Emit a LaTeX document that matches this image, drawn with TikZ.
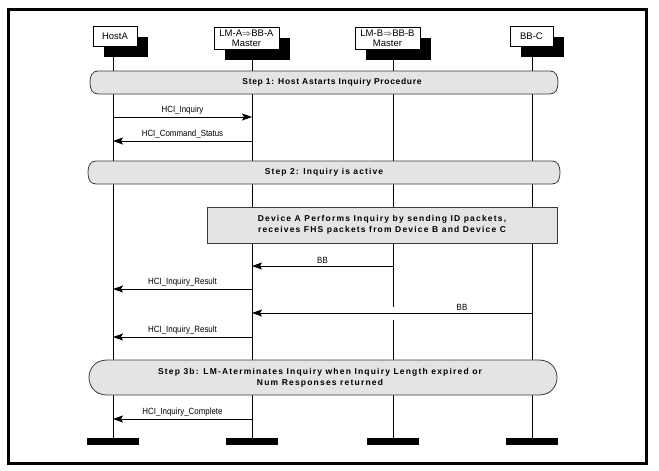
\documentclass[tikz,border=0pt]{standalone}
\usepackage{fontspec}
\setmainfont{Liberation Sans}
\newfontfamily\lblfont[FakeStretch=0.88]{Liberation Sans}
\usetikzlibrary{arrows.meta,shadows}
\definecolor{bannerfill}{HTML}{E4E4E4}
\definecolor{bannerline}{HTML}{3A3A3A}
\begin{document}
\begin{tikzpicture}[x=1pt,y=-1pt,
  head/.style={draw=black, line width=0.7pt, fill=white, align=center, inner sep=1pt,
    font=\fontsize{9.5}{10}\selectfont,
    drop shadow={shadow xshift=11pt, shadow yshift=-11pt, opacity=1, fill=black}},
  endbar/.style={fill=black, draw=none, inner sep=0pt, minimum width=52pt, minimum height=7pt},
  life/.style={line width=0.8pt},
  bannerbox/.style={draw=bannerline, fill=bannerfill, line width=0.8pt},
  bannertext/.style={align=center, inner sep=0pt,
    font=\bfseries\fontsize{8.5}{11}\selectfont\addfontfeatures{LetterSpace=#1}},
  msg/.style={line width=0.8pt, -{Stealth[length=10pt, width=7pt, inset=2pt]}},
  lbl/.style={above=2pt, inner sep=0pt, font=\lblfont\fontsize{9}{9}\selectfont}
]
\useasboundingbox (0,0) rectangle (659,471);
\draw[line width=3pt] (8,9) rectangle (646,463);

% end bars
\node[endbar] (bA)  at (113,441.5) {};
\node[endbar] (bLA) at (252,441.5) {};
\node[endbar] (bLB) at (393,441.5) {};
\node[endbar] (bC)  at (532,441.5) {};

% heads
\node[head, minimum width=44pt, minimum height=20pt] (hA) at (115,36) {HostA};
\node[head, minimum width=65pt, minimum height=22pt] (hLA) at (246.5,38) {LM-A$\Rightarrow$BB-A\\Master};
\node[head, minimum width=65pt, minimum height=22pt] (hLB) at (387.5,38) {LM-B$\Rightarrow$BB-B\\Master};
\node[head, minimum width=43pt, minimum height=20pt] (hC) at (531.5,36) {BB-C};

% lifelines
\draw[life] (bA |- hA.south) -- (bA.north);
\draw[life] (bLA |- hLA.south) -- (bLA.north);
\draw[life] (bLB |- hLB.south) -- (bLB |- 0,307);
\draw[life] (bLB |- 0,320) -- (bLB.north);
\draw[life] (bC |- hC.south) -- (bC.north);

% banner 1
\filldraw[bannerbox] (98,71) -- (550,71) .. controls (556,71) and (558,76) .. (558,82.5)
  .. controls (558,89) and (556,94) .. (550,94) -- (98,94)
  .. controls (92,94) and (90,89) .. (90,82.5) .. controls (90,76) and (92,71) .. cycle;
\node[bannertext=8] (s1) at (332,82.5) {Step 1: Host Astarts Inquiry Procedure};

% banner 2
\filldraw[bannerbox] (96,161) -- (552,161) .. controls (558,161) and (560,166) .. (560,172.5)
  .. controls (560,179) and (558,184) .. (552,184) -- (96,184)
  .. controls (90,184) and (88,179) .. (88,172.5) .. controls (88,166) and (90,161) .. cycle;
\node[bannertext=13] (s2) at (324,172.5) {Step 2: Inquiry is active};

% device box
\node[bannerbox, bannertext=14, minimum width=350pt, minimum height=36pt] (dev) at (382,225)
  {Device A Performs Inquiry by sending ID packets,\\receives FHS packets from Device B and Device C};

% messages
\draw[msg] (bA |- 0,117) -- node[lbl] (m1) {HCI\_Inquiry} (bLA |- 0,117);
\draw[msg] (bLA |- 0,141) -- node[lbl] (m2) {HCI\_Command\_Status} (bA |- 0,141);
\draw[msg] (bLB |- 0,266) -- node[lbl] (m3) {BB} (bLA |- 0,266);
\draw[msg] (bLA |- 0,289) -- node[lbl] (m4) {HCI\_Inquiry\_Result} (bA |- 0,289);
\draw[msg] (bC |- 0,313) -- node[lbl, pos=0.25] (m5) {BB} (bLA |- 0,313);
\draw[msg] (bLA |- 0,337) -- node[lbl] (m6) {HCI\_Inquiry\_Result} (bA |- 0,337);

% banner 3
\filldraw[bannerbox] (107,360) -- (539,360) .. controls (552,360) and (557,370) .. (557,377.5)
  .. controls (557,385) and (552,395) .. (539,395) -- (107,395)
  .. controls (94,395) and (89,385) .. (89,377.5) .. controls (89,370) and (94,360) .. cycle;
\node[bannertext=14] (s3) at (320,377.5) {Step 3b: LM-Aterminates Inquiry when Inquiry Length expired or\\Num Responses returned};

\draw[msg] (bLA |- 0,419) -- node[lbl] (m7) {HCI\_Inquiry\_Complete} (bA |- 0,419);
\end{tikzpicture}
\end{document}
